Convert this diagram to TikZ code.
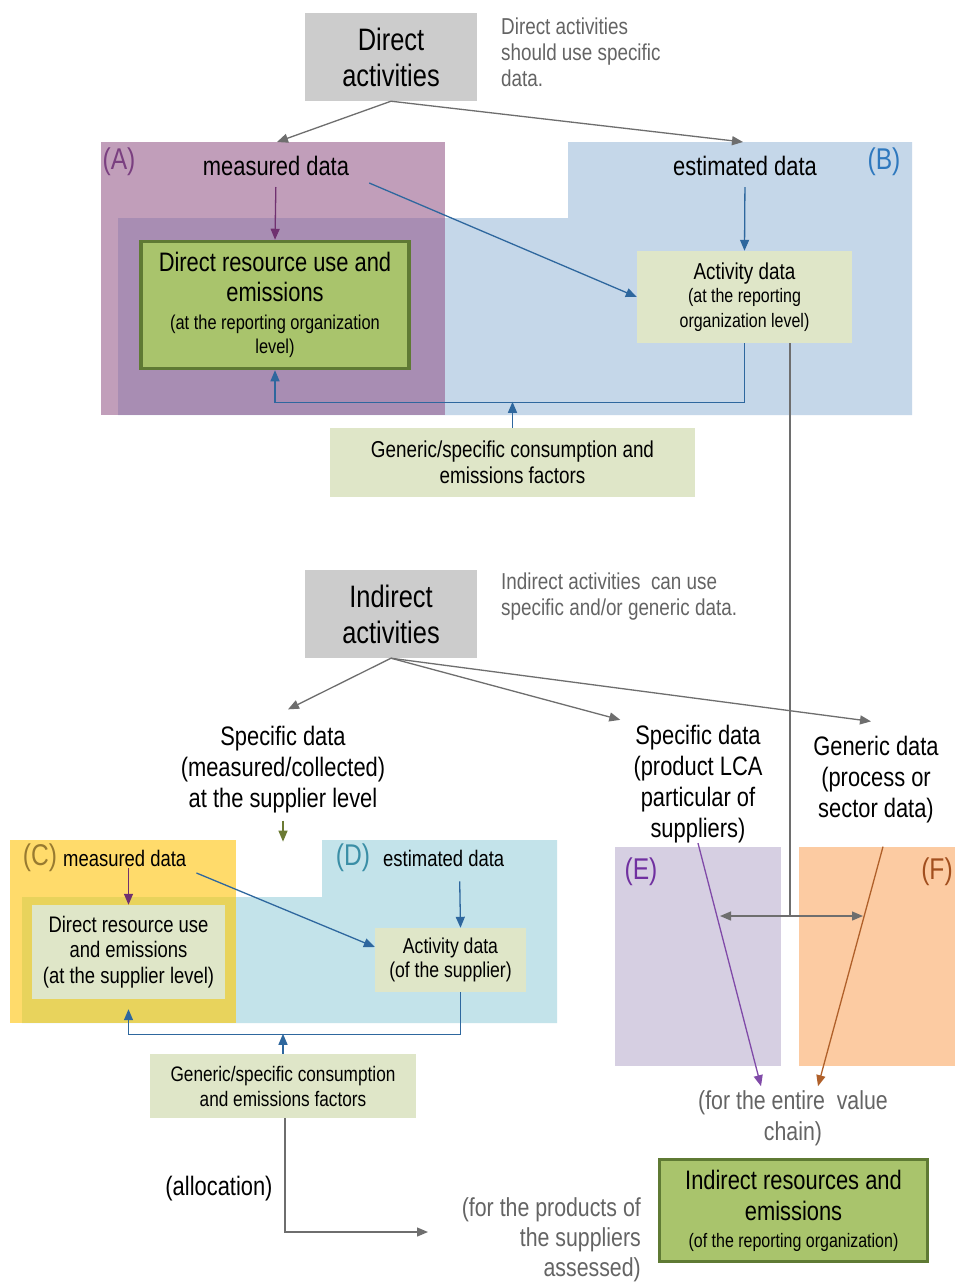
\documentclass[tikz,border=0pt]{standalone}
\usepackage{fontspec}
\setmainfont{Liberation Sans}[FakeStretch=0.82]
\usepackage{xcolor}
\usepackage{tikz}
\usetikzlibrary{arrows.meta, positioning, calc}
\definecolor{boxgray}{RGB}{204,204,204}
\definecolor{notegray}{RGB}{100,100,100}
\definecolor{arrowgray}{RGB}{110,110,110}
\definecolor{regApurple}{RGB}{193,158,186}
\definecolor{regAB}{RGB}{168,141,179}
\definecolor{regBblue}{RGB}{197,215,233}
\definecolor{greenfill}{RGB}{169,196,108}
\definecolor{greenline}{RGB}{95,122,52}
\definecolor{palegreen}{RGB}{223,230,200}
\definecolor{flowblue}{RGB}{46,103,158}
\definecolor{purpleflow}{RGB}{112,48,112}
\definecolor{tagA}{RGB}{122,63,128}
\definecolor{tagB}{RGB}{46,120,190}
\definecolor{regCyellow}{RGB}{255,219,107}
\definecolor{regCD}{RGB}{232,211,92}
\definecolor{regDcyan}{RGB}{195,227,234}
\definecolor{tagC}{RGB}{152,122,48}
\definecolor{tagD}{RGB}{58,142,166}
\definecolor{regE}{RGB}{214,207,226}
\definecolor{regF}{RGB}{252,203,162}
\definecolor{tagE}{RGB}{112,48,160}
\definecolor{tagF}{RGB}{162,79,30}
\definecolor{flowE}{RGB}{128,74,168}
\definecolor{flowF}{RGB}{176,96,42}
\definecolor{olivearrow}{RGB}{107,122,51}
\newcommand{\fsz}[2]{\fontsize{#1}{#2}\selectfont}

\begin{document}
\begin{tikzpicture}[x=1pt,y=-1pt,>={Triangle[length=11pt,width=9pt]},
  graybox/.style={fill=boxgray,minimum width=172pt,minimum height=88pt,align=center,font=\fsz{31}{36}},
  note/.style={text=notegray,align=left,anchor=west,inner sep=0pt,font=\fsz{23}{26}},
  grnote/.style={text=notegray,inner sep=0pt,font=\fsz{26}{31}},
  big/.style={align=center,inner sep=2pt,font=\fsz{26.7}{31}},
  mid/.style={align=center,inner sep=2pt,font=\fsz{22.5}{25.5}},
  tag/.style={inner sep=0pt,font=\fsz{30}{32}},
  result/.style={draw=greenline,line width=3.5pt,fill=greenfill,align=center,inner sep=0pt},
  pale/.style={fill=palegreen,align=center,inner sep=0pt},
  gflow/.style={->,draw=arrowgray,line width=1.3pt},
  bflow/.style={->,draw=flowblue,line width=1.3pt},
  pflow/.style={->,draw=purpleflow,line width=1.3pt}]
\fill[white] (0,0) rectangle (955,1283);
\useasboundingbox (0,0) rectangle (955,1283);

% Regions (A) and (B)
\fill[regBblue] (568,142) -- (912,142) -- (912,415) -- (118,415) -- (118,218) -- (568,218) -- cycle;
\fill[regApurple] (101,142) rectangle (445,415);
\fill[regAB] (118,218) rectangle (445,415);

% Regions (C) and (D)
\fill[regDcyan] (322,840) -- (557,840) -- (557,1023) -- (22,1023) -- (22,897) -- (322,897) -- cycle;
\fill[regCyellow] (10,840) rectangle (236,1023);
\fill[regCD] (22,897) rectangle (236,1023);

% Regions (E) and (F)
\fill[regE] (615,847) rectangle (781,1066);
\fill[regF] (799,847) rectangle (955,1066);

% Direct activities
\node[graybox] (direct) at (391,57) {Direct\\activities};
\node[note] (directnote) at (501,52) {Direct activities\\should use specific\\data.};
\node[tag,text=tagA] (tagA) at (119,162) {(A)};
\node[tag,text=tagB] (tagB) at (884,162) {(B)};
\node[big] (measA) at (276,166) {measured data};
\node[big] (estB) at (745,166) {estimated data};
\coordinate (measAtop) at (277,142);
\coordinate (estBtop) at (743,142);
\draw[gflow] (direct.south) -- (measAtop);
\draw[gflow] (direct.south) -- (estBtop);

\node[result,minimum width=268pt,minimum height=127pt,font=\fsz{26.7}{30}] (dresA) at (275,305)
  {Direct resource use and\\emissions\\[-2pt]\fsz{20}{24}(at the reporting organization\\[-6pt]\fsz{20}{24}level)};
\node[pale,minimum width=215pt,minimum height=92pt,font=\fsz{19.5}{25}] (actA) at (744.5,297)
  {\fsz{23}{25}Activity data\\[-2pt](at the reporting\\organization level)};
\node[pale,minimum width=365pt,minimum height=69pt,font=\fsz{23}{26}] (genA) at (512.5,462.5)
  {Generic/specific consumption and\\emissions factors};

\draw[pflow,shorten <=9pt] (measA.south) -- (dresA.north);
\draw[bflow] ($(measA.south east)+(18,5)$) -- (actA.west);
\draw[bflow,shorten <=9pt] (estB.south) -- (actA.north);
\draw[bflow] (actA.south) -- ++(0,59) -| (dresA.south);
\draw[bflow] (genA.north) -- ++(0,-26);

% Link to (E)/(F)
\coordinate (split) at (790,916);
\draw[draw=arrowgray,line width=1.3pt] (actA.south -| split) -- (split);
\draw[gflow,<->] ($(split)+(-70,0)$) -- ($(split)+(73,0)$);

% Indirect activities
\node[graybox] (indirect) at (391,614) {Indirect\\activities};
\node[note] (indirectnote) at (501,597) {Indirect activities\ \ can use\\specific and/or generic data.};
\node[big] (spec1) at (283,770) {Specific data\\(measured/collected)\\at the supplier level};
\node[big] (spec2) at (698,784) {Specific data\\(product LCA\\particular of\\suppliers)};
\node[big] (gen2) at (876,780) {Generic data\\(process or\\sector data)};
\draw[gflow] (indirect.south) -- ($(spec1.north)+(5,-15)$);
\draw[gflow] (indirect.south) -- ($(spec2.north west)+(-11,-3)$);
\draw[gflow] (indirect.south) -- ($(gen2.north)+(-5,-13)$);
\draw[->,draw=olivearrow,line width=1.3pt] ($(spec1.south)+(0,5)$) -- ++(0,21);

% Supplier level (C) and (D)
\node[tag,text=tagC] (tagC) at (40,858) {(C)};
\node[mid,anchor=west] (measC) at (61,858) {measured data};
\node[tag,text=tagD] (tagD) at (353,858) {(D)};
\node[mid,anchor=west] (estD) at (381,858) {estimated data};
\node[pale,minimum width=193pt,minimum height=94pt,font=\fsz{22.5}{25.5}] (dresC) at (128.5,952)
  {Direct resource use\\and emissions\\(at the supplier level)};
\node[pale,minimum width=151pt,minimum height=64pt,font=\fsz{21.5}{24}] (actC) at (450.5,960)
  {Activity data\\(of the supplier)};
\node[pale,minimum width=266pt,minimum height=64pt,font=\fsz{21}{25}] (genC) at (283,1086)
  {Generic/specific consumption\\and emissions factors};

\draw[pflow] (dresC.north |- measC.south) -- (dresC.north);
\draw[bflow] ($(measC.east)+(8,15)$) -- ($(actC.west)+(0,-13)$);
\draw[bflow] ($(estD.south)+(16,13)$) -- ($(actC.north)+(10,0)$);
\draw[bflow,shorten >=10pt] ($(actC.south)+(10,0)$) -- ++(0,42) -| (dresC.south);
\draw[bflow] (genC.north) -- ++(0,-20);

% Allocation
\coordinate (suppend) at (428,1232);
\draw[gflow] ($(genC.south)+(2,0)$) |- (suppend);
\node[big] (alloc) at (219,1189) {(allocation)};
\node[grnote,align=right,anchor=east,font=\fsz{26}{30}] (suppnote) at (641,1240) {(for the products of\\the suppliers\\assessed)};

% (E) and (F)
\node[tag,text=tagE] (tagE) at (641,872) {(E)};
\node[tag,text=tagF] (tagF) at (937,872) {(F)};
\node[grnote,align=center] (entire) at (793,1118) {(for the entire\ \ value\\chain)};
\draw[->,draw=flowE,line width=1.3pt] ($(spec2.south)+(0,-2)$) -- ($(entire.north)+(-32,-4)$);
\draw[->,draw=flowF,line width=1.3pt] ($(gen2.south)+(7,21)$) -- ($(entire.north)+(25,-4)$);

% Result
\node[result,minimum width=268pt,minimum height=102pt,font=\fsz{26.7}{31}] (indres) at (793.5,1210.5)
  {Indirect resources and\\emissions\\[-4pt]\fsz{19.5}{28}(of the reporting organization)};
\end{tikzpicture}
\end{document}
